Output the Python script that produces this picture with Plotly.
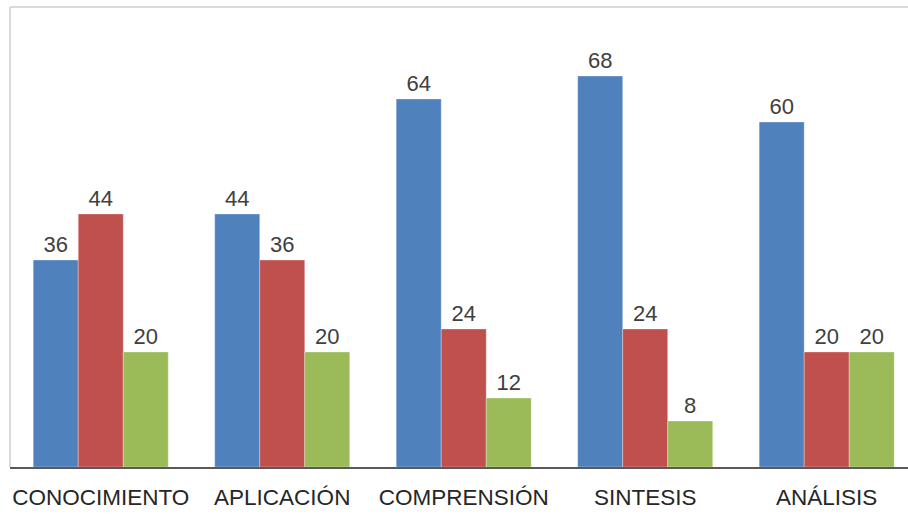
import plotly.graph_objects as go

categories = ["CONOCIMIENTO", "APLICACIÓN", "COMPRENSIÓN", "SINTESIS", "ANÁLISIS"]
serie1 = [36, 44, 64, 68, 60]
serie2 = [44, 36, 24, 24, 20]
serie3 = [20, 20, 12, 8, 20]
colors = ["#4F81BD", "#C0504D", "#9BBB59"]

font_family = "Liberation Sans, Arial, sans-serif"
text_color = "#404040"

fig = go.Figure()
for vals, col in zip([serie1, serie2, serie3], colors):
    fig.add_trace(go.Bar(
        x=categories, y=vals, marker=dict(color=col, line=dict(width=0.5, color="rgba(255,255,255,0.6)")),
        text=[str(v) for v in vals], textposition="outside",
        textfont=dict(family=font_family, size=22, color=text_color),
        cliponaxis=False,
    ))

fig.update_layout(
    width=908, height=514,
    margin=dict(l=10, r=0, t=7, b=47),
    paper_bgcolor="white", plot_bgcolor="white",
    barmode="group", bargap=0.256, bargroupgap=0,
    showlegend=False,
    font=dict(family=font_family, color=text_color),
    xaxis=dict(
        range=[-0.5, 4.448], showgrid=False, zeroline=False,
        showline=True, linecolor="#595959", linewidth=2,
        ticks="", tickfont=dict(size=22.5, color="#262626", family=font_family),
        ticklabelstandoff=9,
    ),
    yaxis=dict(range=[0, 80], showgrid=False, zeroline=False, showticklabels=False,
               showline=False, ticks=""),
    shapes=[
        dict(type="line", xref="paper", yref="paper", x0=0, x1=1, y0=1, y1=1,
             line=dict(color="#d9d9d9", width=2)),
        dict(type="line", xref="paper", yref="paper", x0=0, x1=0, y0=0, y1=1,
             line=dict(color="#d9d9d9", width=2)),
    ],
)

fig.write_html(
    "out.html",
    config={"displayModeBar": False},
    post_script="document.body.style.margin='0';document.body.style.overflow='hidden';",
)
